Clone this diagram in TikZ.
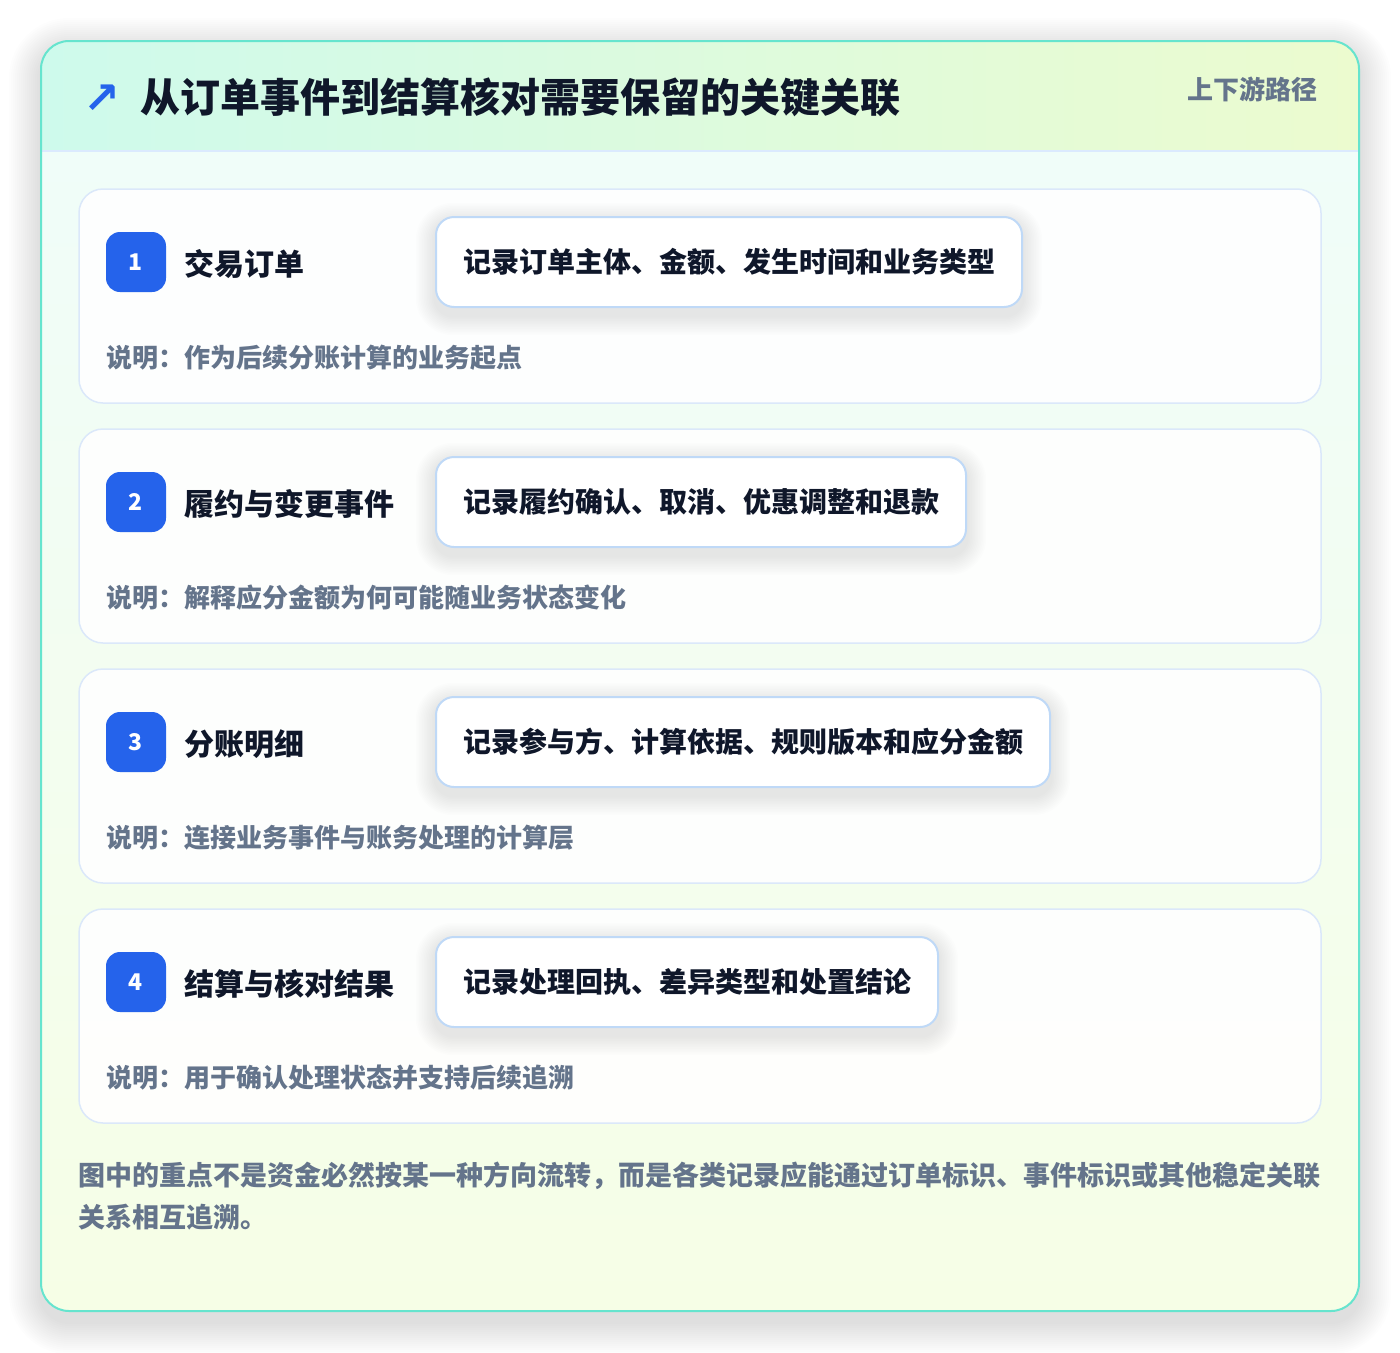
\documentclass[tikz,border=0pt]{standalone}
\usepackage{fontspec}
\setmainfont{Noto Sans CJK SC}
\newfontfamily\djv{DejaVu Sans}
\usetikzlibrary{calc}
\pgfdeclarelayer{cards}
\pgfdeclarelayer{shadow}
\pgfsetlayers{cards,shadow,main}
\definecolor{pagebg}{RGB}{255,255,255}
\definecolor{hdl}{RGB}{206,250,236}
\definecolor{hdr}{RGB}{236,251,207}
\definecolor{bodytop}{RGB}{240,253,249}
\definecolor{bodybot}{RGB}{246,254,230}
\definecolor{tealline}{RGB}{102,228,206}
\definecolor{sepline}{RGB}{219,234,254}
\definecolor{cardline}{RGB}{219,232,250}
\definecolor{boxline}{RGB}{191,217,247}
\definecolor{badgeblue}{RGB}{37,99,235}
\definecolor{ink}{RGB}{15,23,42}
\definecolor{muted}{RGB}{100,116,139}
\tikzset{
  stepcard/.style={draw=cardline, line width=1.5pt, fill=white, fill opacity=0.9, text opacity=1,
    rounded corners=24pt, minimum width=1242pt, minimum height=214pt, inner sep=0pt},
  badge/.style={fill=badgeblue, rounded corners=14pt, minimum size=60pt, inner sep=0pt,
    text=white, font=\fontsize{23}{26}\selectfont\bfseries},
  steplabel/.style={anchor=base west, inner sep=0pt, text=ink, font=\fontsize{30}{36}\selectfont\bfseries},
  recbox/.style={anchor=west, draw=boxline, line width=2pt, fill=white, rounded corners=18pt,
    minimum height=90pt, inner xsep=27pt, inner ysep=0pt, text=ink,
    font=\fontsize{28}{34}\selectfont\bfseries},
  desc/.style={anchor=base west, inner sep=0pt, text=muted, font=\fontsize{26}{32}\selectfont\bfseries},
  foot/.style={anchor=base west, inner sep=0pt, text=muted, font=\fontsize{27}{32}\selectfont\bfseries},
}
\begin{document}
\begin{tikzpicture}[x=1pt,y=-1pt]
\useasboundingbox (0,0) rectangle (1400,1352);
\begin{pgfonlayer}{cards}
\fill[pagebg] (0,0) rectangle (1400,1352);
% soft shadow of the main card
\foreach \i in {1,...,16}{
  \pgfmathsetmacro{\rr}{28+2*\i}
  \fill[black, opacity=0.006, rounded corners=\rr pt] (41-2*\i, 50-2*\i) rectangle (1359+2*\i, 1322+2*\i);
}
% main card
\begin{scope}
  \clip[rounded corners=28pt] (41,41) rectangle (1359,1311);
  \shade[top color=bodytop, bottom color=bodybot] (41,151) rectangle (1359,1311);
  \shade[left color=hdl, right color=hdr] (41,41) rectangle (1359,151);
\end{scope}
\draw[sepline, line width=1.5pt] (42,151) -- (1358,151);
\draw[tealline, line width=2pt, rounded corners=28pt] (41,41) rectangle (1359,1311);
\end{pgfonlayer}

% header
\node[anchor=center, inner sep=0pt, text=badgeblue, font=\djv\bfseries\fontsize{44}{48}\selectfont] (icon) at (101.5,99) {↗};
\node[anchor=base west, inner sep=0pt, text=ink, font=\fontsize{40}{48}\selectfont\bfseries] (title) at (140,112.5)
  {从订单事件到结算核对需要保留的关键关联};
\node[anchor=base east, inner sep=0pt, text=muted, font=\fontsize{26}{30}\selectfont\bfseries] (tag) at (1318,99.5)
  {上下游路径};

% steps
\foreach \k/\lab/\rec/\dsc in {
  1/交易订单/记录订单主体、金额、发生时间和业务类型/作为后续分账计算的业务起点,
  2/履约与变更事件/记录履约确认、取消、优惠调整和退款/解释应分金额为何可能随业务状态变化,
  3/分账明细/记录参与方、计算依据、规则版本和应分金额/连接业务事件与账务处理的计算层,
  4/结算与核对结果/记录处理回执、差异类型和处置结论/用于确认处理状态并支持后续追溯}{
  \pgfmathsetmacro{\cy}{262+240*(\k-1)}
  \begin{pgfonlayer}{cards}
    \node[stepcard] (card\k) at (700,\cy+34) {};
  \end{pgfonlayer}
  \node[badge] (badge\k) at (136,\cy) {\k};
  \node[steplabel] (label\k) at (184,\cy+13) {\lab};
  \node[recbox] (rec\k) at (435,\cy) {\rec};
  \node[desc] (desc\k) at (106,\cy+105) {说明：\dsc};
  \begin{pgfonlayer}{shadow}
    \foreach \j in {1,...,12}{
      \pgfmathsetmacro{\sr}{18+1.6*\j}
      \pgfmathsetmacro{\sd}{1.6*\j}
      \fill[black, opacity=0.006, rounded corners=\sr pt]
        ($(rec\k.north west)+(-\sd,6-\sd)$) rectangle ($(rec\k.south east)+(\sd,8+\sd)$);
    }
  \end{pgfonlayer}
}

% footer
\node[foot] (foot1) at (78,1185)
  {图中的重点不是资金必然按某一种方向流转，而是各类记录应能通过订单标识、事件标识或其他稳定关联};
\node[foot] (foot2) at (78,1227) {关系相互追溯。};
\end{tikzpicture}
\end{document}
